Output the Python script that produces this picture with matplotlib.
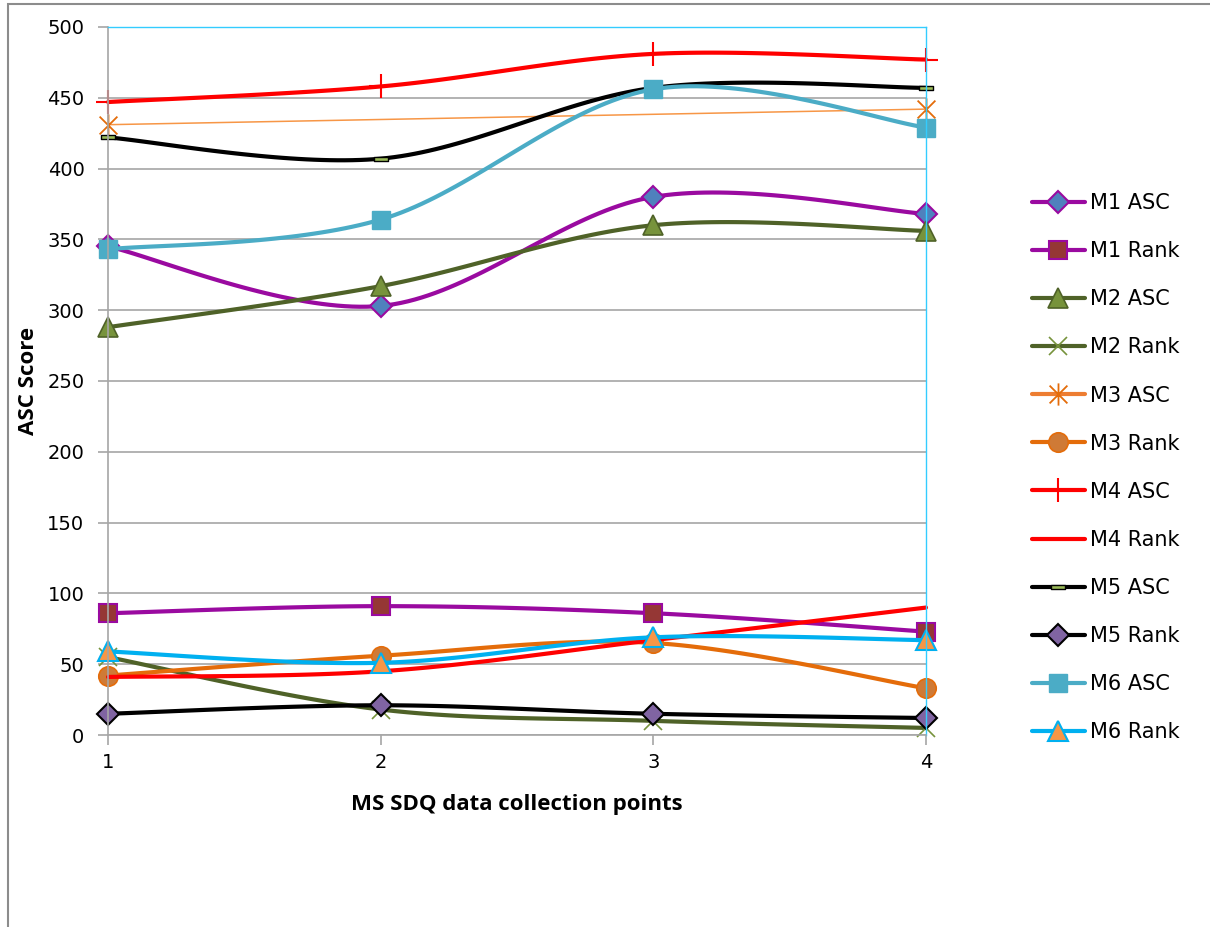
import numpy as np
import matplotlib
matplotlib.use("Agg")
import matplotlib.pyplot as plt
from matplotlib.path import Path
from matplotlib.patches import Rectangle

# collection points on the x axis
points = [1, 2, 3, 4]

m1_asc = [345, 303, 380, 368]
m1_rank = [86, 91, 86, 73]
m2_asc = [288, 317, 360, 356]
m2_rank = [55, 18, 10, 5]
m3_asc = [431, np.nan, np.nan, 442]
m3_rank = [42, 56, 65, 33]
m4_asc = [447, 458, 481, 477]
m4_rank = [41, 45, 67, 90]
m5_asc = [422, 407, 457, 457]
m5_rank = [15, 21, 15, 12]
m6_asc = [343, 364, 456, 429]
m6_rank = [59, 51, 69, 67]

y_ticks = [0, 50, 100, 150, 200, 250, 300, 350, 400, 450, 500]


def smooth(xs, ys, n=40):
    # Bezier smoothing through every point (like a spreadsheet "smoothed line")
    pts = [(x, y) for x, y in zip(xs, ys) if not np.isnan(y)]
    pts = np.array(pts, dtype=float)
    if len(pts) < 3:
        return pts[:, 0], pts[:, 1], list(range(len(pts)))
    out_x, out_y, marks = [], [], []
    t = np.linspace(0, 1, n, endpoint=False)
    for i in range(len(pts) - 1):
        p0 = pts[max(i - 1, 0)]
        p1 = pts[i]
        p2 = pts[i + 1]
        p3 = pts[min(i + 2, len(pts) - 1)]
        c1 = p1 + (p2 - p0) / 6.0
        c2 = p2 - (p3 - p1) / 6.0
        marks.append(len(out_x))
        b = ((1 - t) ** 3)[:, None] * p1 + (3 * (1 - t) ** 2 * t)[:, None] * c1 \
            + (3 * (1 - t) * t ** 2)[:, None] * c2 + (t ** 3)[:, None] * p2
        out_x.extend(b[:, 0])
        out_y.extend(b[:, 1])
    marks.append(len(out_x))
    out_x.append(pts[-1, 0])
    out_y.append(pts[-1, 1])
    return np.array(out_x), np.array(out_y), marks


# flat bar marker and the x-plus-bar asterisk
flat_bar = Path([(-1, -0.28), (1, -0.28), (1, 0.28), (-1, 0.28), (-1, -0.28)],
                [Path.MOVETO, Path.LINETO, Path.LINETO, Path.LINETO, Path.CLOSEPOLY])
star = Path([(-1, -1), (1, 1), (-1, 1), (1, -1), (0, -1.25), (0, 1.25)],
            [Path.MOVETO, Path.LINETO, Path.MOVETO, Path.LINETO, Path.MOVETO, Path.LINETO])

series = [
    ("M1 ASC", m1_asc, dict(color="#9A0AA0", lw=3, marker="D", ms=11, mfc="#4F81BD", mec="#9A0AA0", mew=1.5)),
    ("M1 Rank", m1_rank, dict(color="#9A0AA0", lw=3, marker="s", ms=13, mfc="#953735", mec="#9A0AA0", mew=1.5)),
    ("M2 ASC", m2_asc, dict(color="#4F6228", lw=3, marker="^", ms=14, mfc="#77933C", mec="#4F6228", mew=1.2)),
    ("M2 Rank", m2_rank, dict(color="#4F6228", lw=3, marker="x", ms=13, mec="#77933C", mew=1.2)),
    ("M3 ASC", m3_asc, dict(color="#F79646", lw=1.1, marker=star, ms=16, mfc="none", mec="#E46C0A", mew=1.3)),
    ("M3 Rank", m3_rank, dict(color="#E46C0A", lw=3, marker="o", ms=14, mfc="#CF7A36", mec="#E46C0A", mew=1.2)),
    ("M4 ASC", m4_asc, dict(color="#FF0000", lw=3, marker="+", ms=17, mec="#FF0000", mew=1.5)),
    ("M4 Rank", m4_rank, dict(color="#FF0000", lw=3)),
    ("M5 ASC", m5_asc, dict(color="#000000", lw=3, marker=flat_bar, ms=10, mfc="#9BBB59", mec="#000000", mew=1)),
    ("M5 Rank", m5_rank, dict(color="#000000", lw=3, marker="D", ms=11, mfc="#8064A2", mec="#000000", mew=1.5)),
    ("M6 ASC", m6_asc, dict(color="#4BACC6", lw=3, marker="s", ms=13, mfc="#4BACC6", mec="#4BACC6", mew=1)),
    ("M6 Rank", m6_rank, dict(color="#00B0F0", lw=3, marker="^", ms=14, mfc="#F79646", mec="#00B0F0", mew=1.5)),
]

fig = plt.figure(figsize=(12.1, 9.27), dpi=100)
ax = fig.add_axes([0.0893, 0.2071, 0.6760, 0.7638])

for label, vals, style in series:
    sx, sy, marks = smooth(points, np.array(vals, dtype=float))
    ax.plot(sx, sy, label=label, markevery=marks, solid_capstyle="round",
            clip_on=False, **style)

ax.set_xlim(1, 4)
ax.set_ylim(0, 500)
ax.set_xticks(points)
ax.set_yticks(y_ticks)
ax.yaxis.grid(True, color="#A6A6A6", lw=1.2)
ax.set_axisbelow(True)
ax.tick_params(axis="both", labelsize=14, color="#A6A6A6", length=7, width=1.2)
ax.tick_params(axis="x", pad=6)
ax.tick_params(axis="y", pad=10)
for side in ("left", "bottom"):
    ax.spines[side].set_color("#A6A6A6")
    ax.spines[side].set_linewidth(1.2)
for side in ("top", "right"):
    ax.spines[side].set_color("#33CCFF")
    ax.spines[side].set_linewidth(1)

ax.set_xlabel("MS SDQ data collection points", fontsize=16, fontweight="bold",
              family="Open Sans", labelpad=16)
ax.set_ylabel("ASC Score", fontsize=16, fontweight="bold", family="Open Sans", labelpad=6)

leg = fig.legend(loc="upper left", bbox_to_anchor=(0.837, 0.812), frameon=False,
                 prop={"family": "DejaVu Sans", "size": 15}, handlelength=2.55,
                 labelspacing=1.35, handletextpad=0.25)
# the thin M3 ASC line still gets a full-width key line
for h in leg.legend_handles:
    if h.get_label() == "M3 ASC":
        h.set_linewidth(3)
        h.set_color("#ED7D31")

# outer chart border
fig.patches.append(Rectangle((8 / 1210, -0.05), 1.1, 1.05 - 4 / 927,
                             transform=fig.transFigure, fill=False,
                             edgecolor="#8C8C8C", lw=1.5))

fig.savefig("out.png", dpi=100)
